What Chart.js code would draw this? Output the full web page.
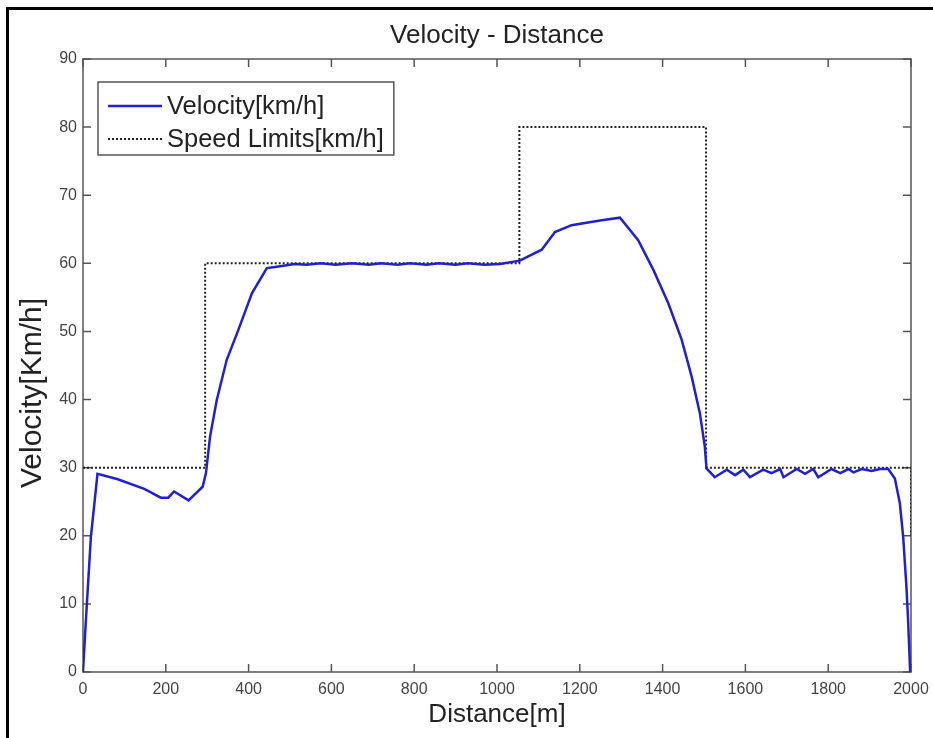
<!DOCTYPE html>
<html>
<head>
<meta charset="utf-8">
<script src="https://cdn.jsdelivr.net/npm/chart.js@4"></script>
<style>
  html, body { margin: 0; padding: 0; background: #fff; overflow: hidden; }
  #frame { position: absolute; left: 6px; top: 7px; width: 1000px; height: 1000px;
           border-left: 3px solid #000; border-top: 3px solid #000; }
  #wrap { position: absolute; left: 0; top: 0; width: 933px; height: 738px; }
</style>
</head>
<body>
<div id="frame"></div>
<div id="wrap"><canvas id="chart" width="933" height="738"></canvas></div>
<script>
// velocity profile (distance in m, velocity in km/h)
const velDistance = [0, 7, 19, 35, 84, 148, 188, 206, 220, 255, 289, 297, 307, 323, 347, 375, 408, 444, 468,
  512, 540, 575, 610, 650, 690, 720, 760, 790, 830, 860, 900, 930, 970, 1007,
  1055, 1108, 1140, 1180, 1249, 1297, 1341, 1378, 1414, 1446, 1470, 1490, 1502, 1506,
  1526, 1555, 1575, 1595, 1611, 1643, 1663, 1684, 1692, 1724, 1744, 1764, 1776, 1808, 1829, 1849, 1861,
  1881, 1905, 1925, 1945, 1961, 1973, 1981, 1989, 1993, 1998];
const velocity = [0, 7.6, 19.8, 29.1, 28.3, 26.9, 25.6, 25.6, 26.5, 25.2, 27.2, 29.2, 34.6, 39.9, 45.8, 50.2, 55.6, 59.3, 59.5,
  59.9, 59.8, 60.0, 59.8, 60.0, 59.8, 60.0, 59.8, 60.0, 59.8, 60.0, 59.8, 60.0, 59.8, 59.9,
  60.4, 62.0, 64.6, 65.6, 66.3, 66.7, 63.4, 59.0, 54.1, 48.8, 43.4, 38.0, 33.1, 29.9,
  28.6, 29.7, 28.9, 29.7, 28.6, 29.7, 29.2, 29.8, 28.6, 29.8, 29.1, 29.8, 28.6, 29.8, 29.2, 29.8, 29.3,
  29.8, 29.5, 29.8, 29.8, 28.4, 24.8, 19.9, 12.5, 7.6, 0];

// speed limit steps
const limitDistance = [0, 295, 295, 1054, 1054, 1505, 1505, 2000, 2000];
const limitSpeed = [30, 30, 60, 60, 80, 80, 30, 30, 20];

const xTickStep = 200;
const yTickStep = 10;

const FONT = '"Liberation Sans", Arial, Helvetica, sans-serif';

const toPoints = (xs, ys) => xs.map((x, i) => ({ x, y: ys[i] }));

// box around plot + inward ticks on all four sides
const boxTicks = {
  id: 'boxTicks',
  beforeDatasetsDraw(chart) {
    const { ctx, chartArea: a, scales } = chart;
    const len = 8;
    ctx.save();
    ctx.strokeStyle = '#555';
    ctx.lineWidth = 1.5;
    ctx.strokeRect(a.left, a.top, a.right - a.left, a.bottom - a.top);
    ctx.beginPath();
    scales.x.ticks.forEach(t => {
      const px = scales.x.getPixelForValue(t.value);
      ctx.moveTo(px, a.bottom); ctx.lineTo(px, a.bottom - len);
      ctx.moveTo(px, a.top); ctx.lineTo(px, a.top + len);
    });
    scales.y.ticks.forEach(t => {
      const py = scales.y.getPixelForValue(t.value);
      ctx.moveTo(a.left, py); ctx.lineTo(a.left + len, py);
      ctx.moveTo(a.right, py); ctx.lineTo(a.right - len, py);
    });
    ctx.stroke();
    ctx.restore();
  },
  afterDraw(chart) {
    // y label sits a bit below the axis middle in the original
    const { ctx } = chart;
    ctx.save();
    ctx.translate(33, 393);
    ctx.rotate(-Math.PI / 2);
    ctx.font = '30px ' + FONT;
    ctx.fillStyle = '#222';
    ctx.textAlign = 'center';
    ctx.textBaseline = 'middle';
    ctx.fillText('Velocity[Km/h]', 0, 0);
    ctx.restore();
  }
};

// matlab-style legend box in the top-left of the axes
const boxLegend = {
  id: 'boxLegend',
  afterDatasetsDraw(chart) {
    const { ctx, chartArea: a } = chart;
    const sets = chart.data.datasets;
    const left = a.left + 15, top = a.top + 23;
    const rowH = 33, lineLen = 54;
    ctx.save();
    ctx.font = '25.5px ' + FONT;
    const textW = Math.max(...sets.map(d => ctx.measureText(d.label).width));
    const w = 10 + lineLen + 5 + textW + 10;
    const h = sets.length * rowH + 7;
    ctx.fillStyle = '#fff';
    ctx.fillRect(left, top, w, h);
    ctx.strokeStyle = '#555';
    ctx.lineWidth = 1.5;
    ctx.strokeRect(left, top, w, h);
    sets.forEach((d, i) => {
      const cy = top + 24 + i * rowH;
      ctx.beginPath();
      ctx.setLineDash(d.borderDash || []);
      ctx.strokeStyle = d.borderColor;
      ctx.lineWidth = d.borderWidth;
      ctx.moveTo(left + 10, cy);
      ctx.lineTo(left + 10 + lineLen, cy);
      ctx.stroke();
      ctx.setLineDash([]);
      ctx.fillStyle = '#222';
      ctx.textBaseline = 'middle';
      ctx.fillText(d.label, left + 10 + lineLen + 5, cy + 1);
    });
    ctx.restore();
  }
};

new Chart(document.getElementById('chart'), {
  type: 'line',
  data: {
    datasets: [
      {
        label: 'Velocity[km/h]',
        data: toPoints(velDistance, velocity),
        borderColor: '#2020cc',
        borderWidth: 2.5,
        pointRadius: 0,
        tension: 0,
        fill: false
      },
      {
        label: 'Speed Limits[km/h]',
        data: toPoints(limitDistance, limitSpeed),
        borderColor: '#222',
        borderWidth: 2,
        borderDash: [2, 2],
        pointRadius: 0,
        tension: 0,
        fill: false
      }
    ]
  },
  options: {
    responsive: false,
    animation: false,
    layout: { padding: { left: 0, right: 22, top: 0, bottom: 0 } },
    plugins: {
      legend: { display: false },
      tooltip: { enabled: false }
    },
    scales: {
      x: {
        type: 'linear',
        min: 0, max: 2000,
        ticks: { stepSize: xTickStep, color: '#444', padding: 8, font: { family: FONT, size: 16 }, callback: v => String(v) },
        grid: { display: false, drawTicks: false },
        border: { display: false },
        title: { display: true, text: 'Distance[m]', color: '#222', font: { family: FONT, size: 26 }, padding: { top: 0, bottom: 8 } },
        afterFit: s => { s.height = 66; s.paddingLeft = 0; s.paddingRight = 0; }
      },
      // top axis only carries the chart title, centred over the plot like matlab
      xTop: {
        type: 'linear',
        position: 'top',
        min: 0, max: 2000,
        ticks: { display: false },
        grid: { display: false, drawTicks: false },
        border: { display: false },
        title: { display: true, text: 'Velocity - Distance', color: '#222', font: { family: FONT, size: 26 }, padding: { top: 20.4, bottom: 0 } },
        afterFit: s => { s.height = 59; s.paddingLeft = 0; s.paddingRight = 0; }
      },
      y: {
        min: 0, max: 90,
        ticks: { stepSize: yTickStep, color: '#444', padding: 6, font: { family: FONT, size: 16 }, callback: v => String(v) },
        grid: { display: false, drawTicks: false },
        border: { display: false },
        afterFit: s => { s.width = 83; }
      }
    }
  },
  plugins: [boxTicks, boxLegend]
});
</script>
</body>
</html>
